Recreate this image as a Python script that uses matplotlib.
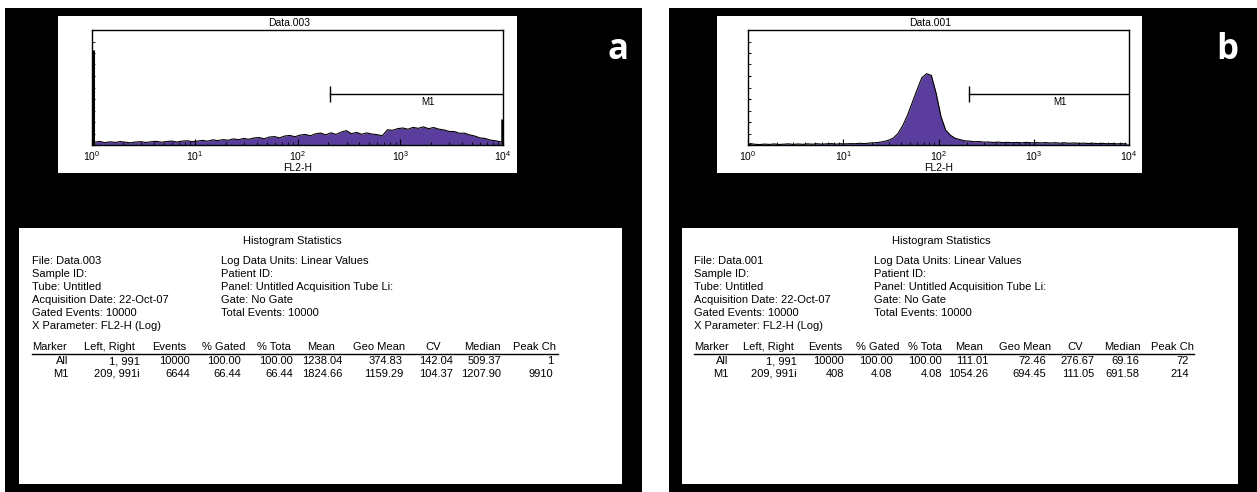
import numpy as np
import matplotlib.pyplot as plt
from matplotlib.patches import Rectangle

plt.rcParams['font.family'] = ['Liberation Sans', 'DejaVu Sans']

W, H = 1257, 492

# histogram counts (fraction of y range), 80 log-spaced channels from 10^0 to 10^4
left_counts = [0.025, 0.031, 0.020, 0.028, 0.022, 0.030, 0.024, 0.019, 0.026, 0.029,
               0.022, 0.028, 0.032, 0.024, 0.030, 0.034, 0.026, 0.033, 0.037, 0.029,
               0.034, 0.040, 0.033, 0.045, 0.038, 0.047, 0.041, 0.053, 0.046, 0.057,
               0.050, 0.061, 0.065, 0.054, 0.069, 0.073, 0.062, 0.078, 0.083, 0.072,
               0.086, 0.092, 0.080, 0.097, 0.104, 0.088, 0.106, 0.092, 0.112, 0.125,
               0.098, 0.110, 0.093, 0.105, 0.095, 0.090, 0.080, 0.132, 0.128, 0.142,
               0.148, 0.137, 0.153, 0.145, 0.158, 0.142, 0.152, 0.138, 0.131, 0.118,
               0.117, 0.102, 0.103, 0.088, 0.078, 0.062, 0.057, 0.043, 0.037, 0.028]
right_counts = [0.012, 0.006, 0.004, 0.008, 0.005, 0.009, 0.005, 0.007, 0.010, 0.005,
                0.009, 0.006, 0.010, 0.007, 0.011, 0.007, 0.010, 0.012, 0.008, 0.011,
                0.010, 0.012, 0.011, 0.015, 0.012, 0.017, 0.019, 0.023, 0.030, 0.041,
                0.060, 0.100, 0.170, 0.260, 0.370, 0.480, 0.585, 0.620, 0.605, 0.450,
                0.250, 0.130, 0.085, 0.058, 0.047, 0.036, 0.034, 0.028, 0.030, 0.025,
                0.026, 0.022, 0.025, 0.021, 0.023, 0.020, 0.022, 0.019, 0.023, 0.019,
                0.021, 0.018, 0.021, 0.017, 0.020, 0.016, 0.019, 0.015, 0.018, 0.014,
                0.016, 0.013, 0.015, 0.012, 0.014, 0.011, 0.013, 0.010, 0.012, 0.009]
left_first, left_last = 0.83, 0.23
right_first, right_last = 0.02, 0.01

m1_range = [209, 9910]
titles = ['Data.003', 'Data.001']
panel_tags = ['a', 'b']

info_left_a = ['File: Data.003', 'Sample ID:', 'Tube: Untitled', 'Acquisition Date: 22-Oct-07',
               'Gated Events: 10000', 'X Parameter: FL2-H (Log)']
info_left_b = ['File: Data.001', 'Sample ID:', 'Tube: Untitled', 'Acquisition Date: 22-Oct-07',
               'Gated Events: 10000', 'X Parameter: FL2-H (Log)']
info_right = ['Log Data Units: Linear Values', 'Patient ID:', 'Panel: Untitled Acquisition Tube Li:',
              'Gate: No Gate', 'Total Events: 10000']
headers = ['Marker', 'Left, Right', 'Events', '% Gated', '% Tota', 'Mean', 'Geo Mean', 'CV', 'Median', 'Peak Ch']
rows_a = [['All', '1, 991', '10000', '100.00', '100.00', '1238.04', '374.83', '142.04', '509.37', '1'],
          ['M1', '209, 991i', '6644', '66.44', '66.44', '1824.66', '1159.29', '104.37', '1207.90', '9910']]
rows_b = [['All', '1, 991', '10000', '100.00', '100.00', '111.01', '72.46', '276.67', '69.16', '72'],
          ['M1', '209, 991i', '408', '4.08', '4.08', '1054.26', '694.45', '111.05', '691.58', '214']]

purple = '#5a3d9c'


def fbox(x0, y0, x1, y1):
    return [x0 / W, 1 - y1 / H, (x1 - x0) / W, (y1 - y0) / H]


def rect(x0, y0, x1, y1, color, z):
    fig.add_artist(Rectangle((x0 / W, 1 - y1 / H), (x1 - x0) / W, (y1 - y0) / H,
                             transform=fig.transFigure, color=color, zorder=z, lw=0))


def txt(x, y, s, **kw):
    kw.setdefault('fontsize', 8)
    fig.text(x / W, 1 - y / H, s, va='center', zorder=5, **kw)


fig = plt.figure(figsize=(W / 100, H / 100), dpi=100)
fig.patch.set_facecolor('white')

# black panels
rect(5, 8, 642, 492, 'black', -3)
rect(669, 8, 1257, 492, 'black', -3)

edges = 10 ** np.linspace(0, 4, 81)
centers = np.sqrt(edges[:-1] * edges[1:])


def histo(x0, x1, bx0, bx1, counts, first, last, title, tag_x, tag):
    rect(bx0, 16, bx1, 173, 'white', -2)
    ax = fig.add_axes(fbox(x0, 30, x1, 145))
    ax.set_xscale('log')
    ax.fill_between(centers, 0, counts, color=purple, lw=0)
    ax.plot(centers, counts, color='black', lw=0.8)
    ax.vlines([1.03], 0, first, color='black', lw=2.2)
    ax.vlines([1e4 / 1.03], 0, last, color='black', lw=1.8)
    # M1 marker bar
    ax.plot(m1_range, [0.44, 0.44], color='black', lw=1)
    ax.vlines(m1_range[0], 0.375, 0.51, color='black', lw=1)
    ax.text(10 ** 3.27, 0.375, 'M1', fontsize=7, ha='center', va='center')
    ax.set_xlim(1, 1e4)
    ax.set_ylim(0, 1)
    ax.set_xticks([1, 10, 100, 1000, 10000])
    ax.set_yticks([0, 0.2, 0.4, 0.6, 0.8, 1.0])
    ax.set_yticks(np.arange(0, 1.01, 0.1), minor=True)
    ax.set_yticklabels([])
    ax.tick_params(axis='x', which='major', direction='in', length=4, labelsize=7.5, pad=3)
    ax.tick_params(axis='x', which='minor', direction='in', length=2)
    ax.tick_params(axis='y', which='both', direction='in', length=2)
    ax.set_xlabel('FL2-H', fontsize=7.5, labelpad=0)
    for s in ax.spines.values():
        s.set_linewidth(1)
    txt((x0 + x1) / 2 - 8, 23, title, ha='center', fontsize=7.5)
    txt(tag_x, 50, tag, ha='center', color='white', fontsize=25, fontweight='bold',
        family=['Open Sans', 'DejaVu Sans'])


histo(92, 503, 58, 517, left_counts, left_first, left_last, titles[0], 618, panel_tags[0])
histo(748, 1129, 717, 1142, right_counts, right_first, right_last, titles[1], 1227, panel_tags[1])

# statistics tables
head_x = [32, 84, 152, 202, 257, 307, 353, 425, 464, 513]
val_x = [68, 140, 190, 241, 293, 342, 403, 453, 501, 553]
info_y = [261, 274, 287, 300, 313, 326]


def table(bx0, bx1, x_at, info_l, rows):
    rect(bx0, 228, bx1, 484, 'white', -2)
    txt(x_at(292), 241, 'Histogram Statistics', ha='center')
    for s, y in zip(info_l, info_y):
        txt(x_at(32), y, s)
    for s, y in zip(info_right, info_y):
        txt(x_at(221), y, s)
    for s, x in zip(headers, head_x):
        txt(x_at(x), 347, s)
    fig.add_artist(plt.Line2D([x_at(32) / W, x_at(558) / W], [1 - 354 / H] * 2,
                              transform=fig.transFigure, color='black', lw=1, zorder=5))
    for r, y in zip(rows, [361, 374]):
        for s, x in zip(r, val_x):
            txt(x_at(x), y, s, ha='right')


table(19, 622, lambda x: x, info_left_a, rows_a)
table(682, 1238, lambda x: 694 + (x - 32) * 0.95, info_left_b, rows_b)

fig.savefig('out.png', dpi=100, facecolor='white')
